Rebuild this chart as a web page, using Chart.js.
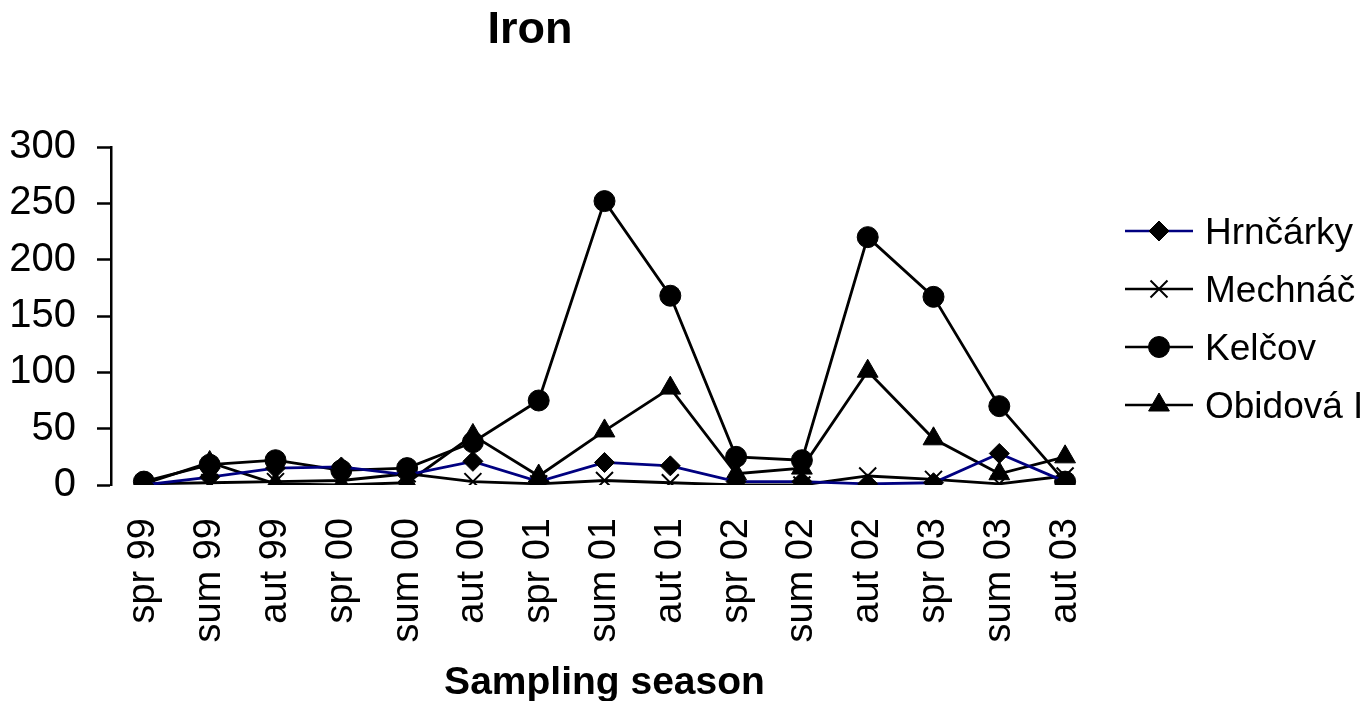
<!DOCTYPE html>
<html>
<head>
<meta charset="utf-8">
<title>Iron</title>
<script src="https://cdn.jsdelivr.net/npm/chart.js@4.4.0/dist/chart.umd.min.js"></script>
<style>
  html, body { margin: 0; padding: 0; background: #fff; }
  #wrap { width: 1369px; height: 701px; }
</style>
</head>
<body>
<div id="wrap"><canvas id="grafico"></canvas></div>
<script>
// sampling seasons (x axis)
var estacoes = ['spr 99', 'sum 99', 'aut 99', 'spr 00', 'sum 00', 'aut 00', 'spr 01', 'sum 01',
                'aut 01', 'spr 02', 'sum 02', 'aut 02', 'spr 03', 'sum 03', 'aut 03'];

// iron values
var hrncarky = [0, 7, 15, 16, 9, 21, 3, 20, 17, 3, 3, 1, 2, 28, 3];
var mechnac  = [1, 2, 3, 4, 10, 3, 1, 4, 2, 0, 0, 8, 5, 1, 8];
var kelcov   = [3, 18, 22, 13, 15, 38, 75, 252, 168, 25, 22, 220, 167, 70, 3];
var obidova  = [1, 20, 1, 0, 2, 44, 8, 48, 86, 10, 15, 101, 41, 10, 25];

// y axis ticks
var ticksY = [0, 50, 100, 150, 200, 250, 300];

Chart.defaults.font.family = '"Liberation Sans", Arial, sans-serif';
Chart.defaults.color = '#000';

function serie(nome, dados, cor, estilo, raio) {
  return {
    label: nome,
    data: dados,
    borderColor: cor,
    borderWidth: 2.8,
    pointStyle: estilo,
    pointRadius: raio,
    pointHoverRadius: raio,
    pointBackgroundColor: '#000',
    pointBorderColor: '#000',
    pointBorderWidth: estilo === 'crossRot' ? 2 : 1,
    tension: 0,
    fill: false
  };
}

// title and the legend drawn by hand (line + marker, like the original)
var extras = {
  id: 'extras',
  afterDraw: function(chart) {
    var ctx = chart.ctx;
    var area = chart.chartArea;
    ctx.save();
    ctx.fillStyle = '#000';
    ctx.textAlign = 'center';
    ctx.textBaseline = 'alphabetic';
    ctx.font = 'bold 45px "Liberation Sans", Arial, sans-serif';
    ctx.fillText('Iron', 530, 43);

    chart.data.datasets.forEach(function(ds, i) {
      var y = 231 + i * 58;
      var x0 = area.right + 27;
      ctx.strokeStyle = ds.borderColor;
      ctx.lineWidth = 2.5;
      ctx.beginPath();
      ctx.moveTo(x0, y);
      ctx.lineTo(x0 + 68, y);
      ctx.stroke();
      ctx.fillStyle = ds.pointBackgroundColor;
      ctx.strokeStyle = ds.pointBorderColor;
      ctx.lineWidth = ds.pointBorderWidth;
      Chart.helpers.drawPoint(ctx, {pointStyle: ds.pointStyle, radius: ds.pointRadius, borderWidth: ds.pointBorderWidth}, x0 + 34, y);
      ctx.fillStyle = '#000';
      ctx.textAlign = 'left';
      ctx.font = '37px "Liberation Sans", Arial, sans-serif';
      ctx.fillText(ds.label, x0 + 80, y + 13);
    });
    ctx.restore();
  }
};

var ctx = document.getElementById('grafico').getContext('2d');
var chart = new Chart(ctx, {
  type: 'line',
  data: {
    labels: estacoes,
    datasets: [
      serie('Hrnčárky', hrncarky, '#000080', 'rectRot', 10),
      serie('Mechnáč', mechnac, '#000', 'crossRot', 12),
      serie('Kelčov', kelcov, '#000', 'circle', 10.5),
      serie('Obidová I', obidova, '#000', 'triangle', 12)
    ]
  },
  options: {
    responsive: true,
    maintainAspectRatio: false,
    animation: false,
    layout: { padding: { left: 10, right: 271, top: 147, bottom: 0 } },
    plugins: {
      legend: { display: false },
      title: { display: false },
      tooltip: { enabled: false }
    },
    scales: {
      x: {
        offset: true,
        grid: { display: false, drawTicks: false },
        border: { display: false },
        ticks: {
          autoSkip: false,
          minRotation: 90,
          maxRotation: 90,
          padding: 33,
          font: { size: 38 }
        },
        title: {
          display: true,
          text: 'Sampling season',
          font: { size: 39, weight: 'bold', lineHeight: 0.9 },
          padding: { top: 0, bottom: 0 }
        },
        afterFit: function(axis) {
          axis.height = 216;
          axis.paddingLeft = 0;
          axis.paddingRight = 0;
        }
      },
      y: {
        min: 0,
        max: 300,
        afterBuildTicks: function(axis) {
          axis.ticks = ticksY.map(function(v) { return { value: v }; });
        },
        afterFit: function(axis) {
          axis.width = 101;
          axis.paddingTop = 0;
          axis.paddingBottom = 0;
        },
        grid: {
          drawOnChartArea: false,
          drawTicks: true,
          tickLength: 14,
          tickWidth: 2.5,
          color: '#000'
        },
        border: { display: true, color: '#000', width: 2.5 },
        ticks: {
          padding: 21,
          font: { size: 40 }
        }
      }
    }
  },
  plugins: [extras]
});
</script>
</body>
</html>
